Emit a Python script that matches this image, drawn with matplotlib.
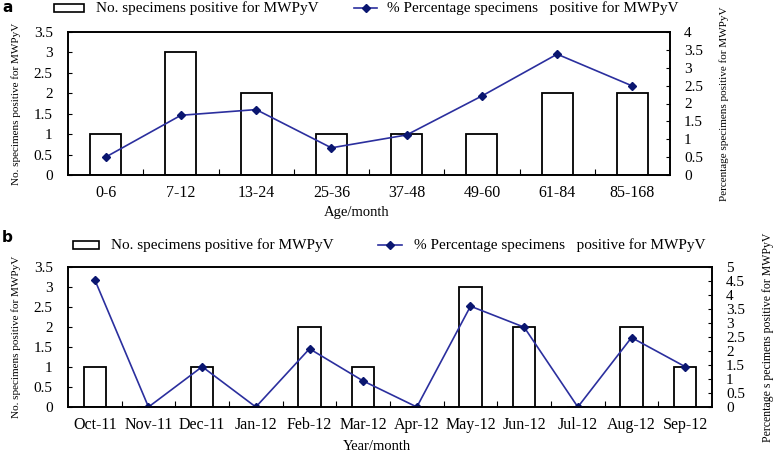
import matplotlib.pyplot as plt
from matplotlib.patches import Rectangle
from matplotlib.lines import Line2D

plt.rcParams['font.family'] = ['Liberation Serif', 'DejaVu Serif']

# panel a data
age_groups = ['0-6', '7-12', '13-24', '25-36', '37-48', '49-60', '61-84', '85-168']
age_counts = [1, 3, 2, 1, 1, 1, 2, 2]
age_pct = [0.50, 1.67, 1.83, 0.76, 1.12, 2.21, 3.38, 2.49]

# panel b data
months = ['Oct-11', 'Nov-11', 'Dec-11', 'Jan-12', 'Feb-12', 'Mar-12', 'Apr-12',
          'May-12', 'Jun-12', 'Jul-12', 'Aug-12', 'Sep-12']
month_counts = [1, 0, 1, 0, 2, 1, 0, 3, 2, 0, 2, 1]
month_pct = [4.54, 0, 1.44, 0, 2.08, 0.93, 0, 3.60, 2.85, 0, 2.48, 1.44]

W, H = 778, 455
fig = plt.figure(figsize=(W / 100, H / 100), dpi=100)
line_col = '#2b2f9e'
mark_col = '#0a1670'


def panel(rect, cats, counts, pct, rmax, rticks, xlabel, lab_pad, rlab, rlab_size):
    ax = fig.add_axes(rect)
    x = range(len(cats))
    ax.bar(x, counts, width=0.41, facecolor='white', edgecolor='black', linewidth=1.3)
    ax.set_xlim(-0.5, len(cats) - 0.5)
    ax.set_ylim(0, 3.5)
    ax.set_yticks([0, 0.5, 1, 1.5, 2, 2.5, 3, 3.5])
    ax.set_yticklabels(['0', '0.5', '1', '1.5', '2', '2.5', '3', '3.5'], fontsize=11)
    ax.set_xticks([i + 0.5 for i in range(len(cats) - 1)])
    ax.set_xticklabels([])
    ax.set_xticks(list(x), minor=True)
    ax.set_xticklabels(cats, minor=True, fontsize=11.5)
    ax.tick_params(axis='x', which='minor', length=0, pad=7)
    ax.tick_params(axis='x', which='major', direction='in', length=4)
    ax.tick_params(axis='y', direction='in', length=3, pad=11)
    ax.set_xlabel(xlabel, fontsize=10.5, x=0.48, labelpad=lab_pad)
    ax.set_ylabel('No. specimens positive for MWPyV', fontsize=8, labelpad=9)
    ax2 = ax.twinx()
    ax2.plot(list(x), pct, color=line_col, linewidth=1.2, marker='D',
             markersize=4.5, markerfacecolor=mark_col, markeredgecolor=mark_col)
    ax2.set_ylim(0, rmax)
    ax2.set_yticks(rticks)
    ax2.set_yticklabels([f'{t:g}' for t in rticks], fontsize=11)
    ax2.tick_params(axis='y', direction='in', length=3, pad=10)
    ax2.set_ylabel(rlab, fontsize=rlab_size, labelpad=12)
    for a in (ax, ax2):
        for s in a.spines.values():
            s.set_linewidth(1.2)
    return ax


panel([68 / W, 1 - 175 / H, 602 / W, 143 / H], age_groups, age_counts, age_pct,
      4, [0, 0.5, 1, 1.5, 2, 2.5, 3, 3.5, 4], 'Age/month', 4,
      'Percentage specimens positive for MWPyV', 8)
panel([68 / W, 1 - 407 / H, 644 / W, 140 / H], months, month_counts, month_pct,
      5, [0, 0.5, 1, 1.5, 2, 2.5, 3, 3.5, 4, 4.5, 5], 'Year/month', 5,
      'Percentage s pecimens positive for MWPyV', 8.5)


def legend_row(y, rx0, rx1, tx1, lx0, lx1, tx2):
    fig.patches.append(Rectangle((rx0 / W, 1 - (y + 4) / H), (rx1 - rx0) / W, 8 / H,
                                 transform=fig.transFigure, facecolor='white',
                                 edgecolor='black', linewidth=1.2))
    fig.text(tx1 / W, 1 - y / H, 'No. specimens positive for MWPyV', fontsize=11, va='center')
    fig.lines.append(Line2D([lx0 / W, lx1 / W], [1 - y / H, 1 - y / H],
                            transform=fig.transFigure, color=line_col, linewidth=1.2))
    fig.lines.append(Line2D([(lx0 + lx1) / 2 / W], [1 - y / H], transform=fig.transFigure,
                            color=mark_col, marker='D', markersize=4, linestyle='none'))
    fig.text(tx2 / W, 1 - y / H, '% Percentage specimens   positive for MWPyV',
             fontsize=11, va='center')


legend_row(8, 54, 84, 96, 354, 377, 387)
legend_row(245, 73, 99, 111, 378, 402, 414)

fig.text(2 / W, 1 - 8 / H, 'a', fontsize=11, fontweight='bold', family='DejaVu Sans', va='center')
fig.text(2 / W, 1 - 238 / H, 'b', fontsize=11, fontweight='bold', family='DejaVu Sans', va='center')

fig.savefig('out.png', dpi=100)
